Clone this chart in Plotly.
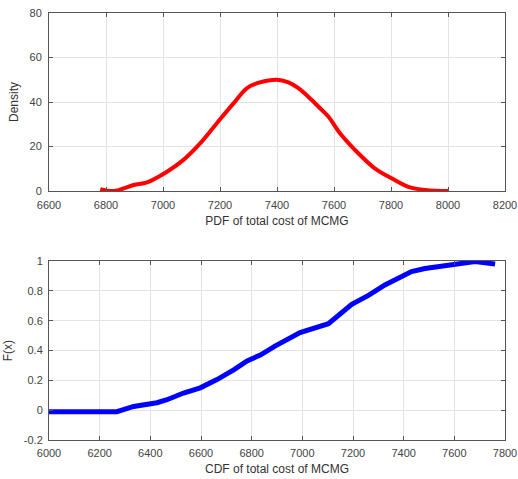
import plotly.graph_objects as go

# Kernel density estimate of total cost (upper panel)
pdf_cost = [6780, 6827, 6897, 6944, 7014, 7072, 7131, 7189, 7248, 7295, 7340,
            7399, 7440, 7475, 7521, 7545, 7580, 7621, 7685, 7743, 7802, 7861,
            7919, 7960, 8001]
pdf_density = [0.9, 0.0, 2.7, 3.9, 8.7, 14.0, 21.5, 30.5, 39.5, 46.3, 48.8,
               50.0, 48.8, 46.2, 41.0, 38.0, 33.5, 26.0, 17.0, 10.2, 5.7, 1.9,
               0.5, 0.1, 0.0]

# Empirical cumulative distribution of total cost (lower panel)
cdf_cost = [6000, 6100, 6200, 6268, 6334, 6426, 6466, 6531, 6597, 6663, 6729,
            6782, 6834, 6892, 6991, 7103, 7195, 7261, 7326, 7431, 7484, 7603,
            7682, 7761]
cdf_f = [-0.01, -0.01, -0.01, -0.01, 0.025, 0.05, 0.07, 0.115, 0.15, 0.205,
         0.27, 0.33, 0.37, 0.43, 0.52, 0.58, 0.71, 0.77, 0.84, 0.93, 0.95,
         0.975, 0.997, 0.98]

pdf_xticks = [6600, 6800, 7000, 7200, 7400, 7600, 7800, 8000, 8200]
pdf_yticks = [0, 20, 40, 60, 80]
cdf_xticks = [6000, 6200, 6400, 6600, 6800, 7000, 7200, 7400, 7600, 7800]
cdf_yticks = [-0.2, 0, 0.2, 0.4, 0.6, 0.8, 1]

fig = go.Figure()
fig.add_trace(go.Scatter(x=pdf_cost, y=pdf_density, mode="lines",
                         line=dict(color="#ff0000", width=4, shape="spline"),
                         xaxis="x", yaxis="y", showlegend=False))
fig.add_trace(go.Scatter(x=cdf_cost, y=cdf_f, mode="lines",
                         line=dict(color="#0000ff", width=5),
                         xaxis="x2", yaxis="y2", showlegend=False))

axis_style = dict(showline=True, linecolor="#555555", linewidth=1, mirror="ticks",
                  ticks="inside", ticklen=4, tickcolor="#555555",
                  showgrid=True, gridcolor="#e3e3e3", gridwidth=1,
                  zeroline=False, automargin=False,
                  tickfont=dict(size=11, color="#444444"))
title_font = dict(size=12, color="#333333")

fig.update_layout(
    width=518, height=479,
    margin=dict(l=49, r=13, t=13, b=39),
    paper_bgcolor="white", plot_bgcolor="white",
    font=dict(family="Liberation Sans, Arial, sans-serif", color="#333333"),
    xaxis=dict(axis_style, range=[6600, 8200], tickvals=pdf_xticks,
               anchor="y", domain=[0, 1], ticklabelstandoff=4,
               title=dict(text="PDF of total cost of MCMG", font=title_font, standoff=6)),
    yaxis=dict(axis_style, range=[0, 80], tickvals=pdf_yticks,
               anchor="x", domain=[0.583, 1], ticklabelstandoff=4,
               title=dict(text="Density", font=title_font, standoff=8)),
    xaxis2=dict(axis_style, range=[6000, 7800], tickvals=cdf_xticks,
                anchor="y2", domain=[0, 1], ticklabelstandoff=3,
                title=dict(text="CDF of total cost of MCMG", font=title_font, standoff=6)),
    yaxis2=dict(axis_style, range=[-0.2, 1], tickvals=cdf_yticks,
                ticktext=["-0.2", "0", "0.2", "0.4", "0.6", "0.8", "1"],
                anchor="x2", domain=[0, 0.419], ticklabelstandoff=3,
                title=dict(text="F(x)", font=title_font, standoff=8)),
)

fig.write_html("out.html")
